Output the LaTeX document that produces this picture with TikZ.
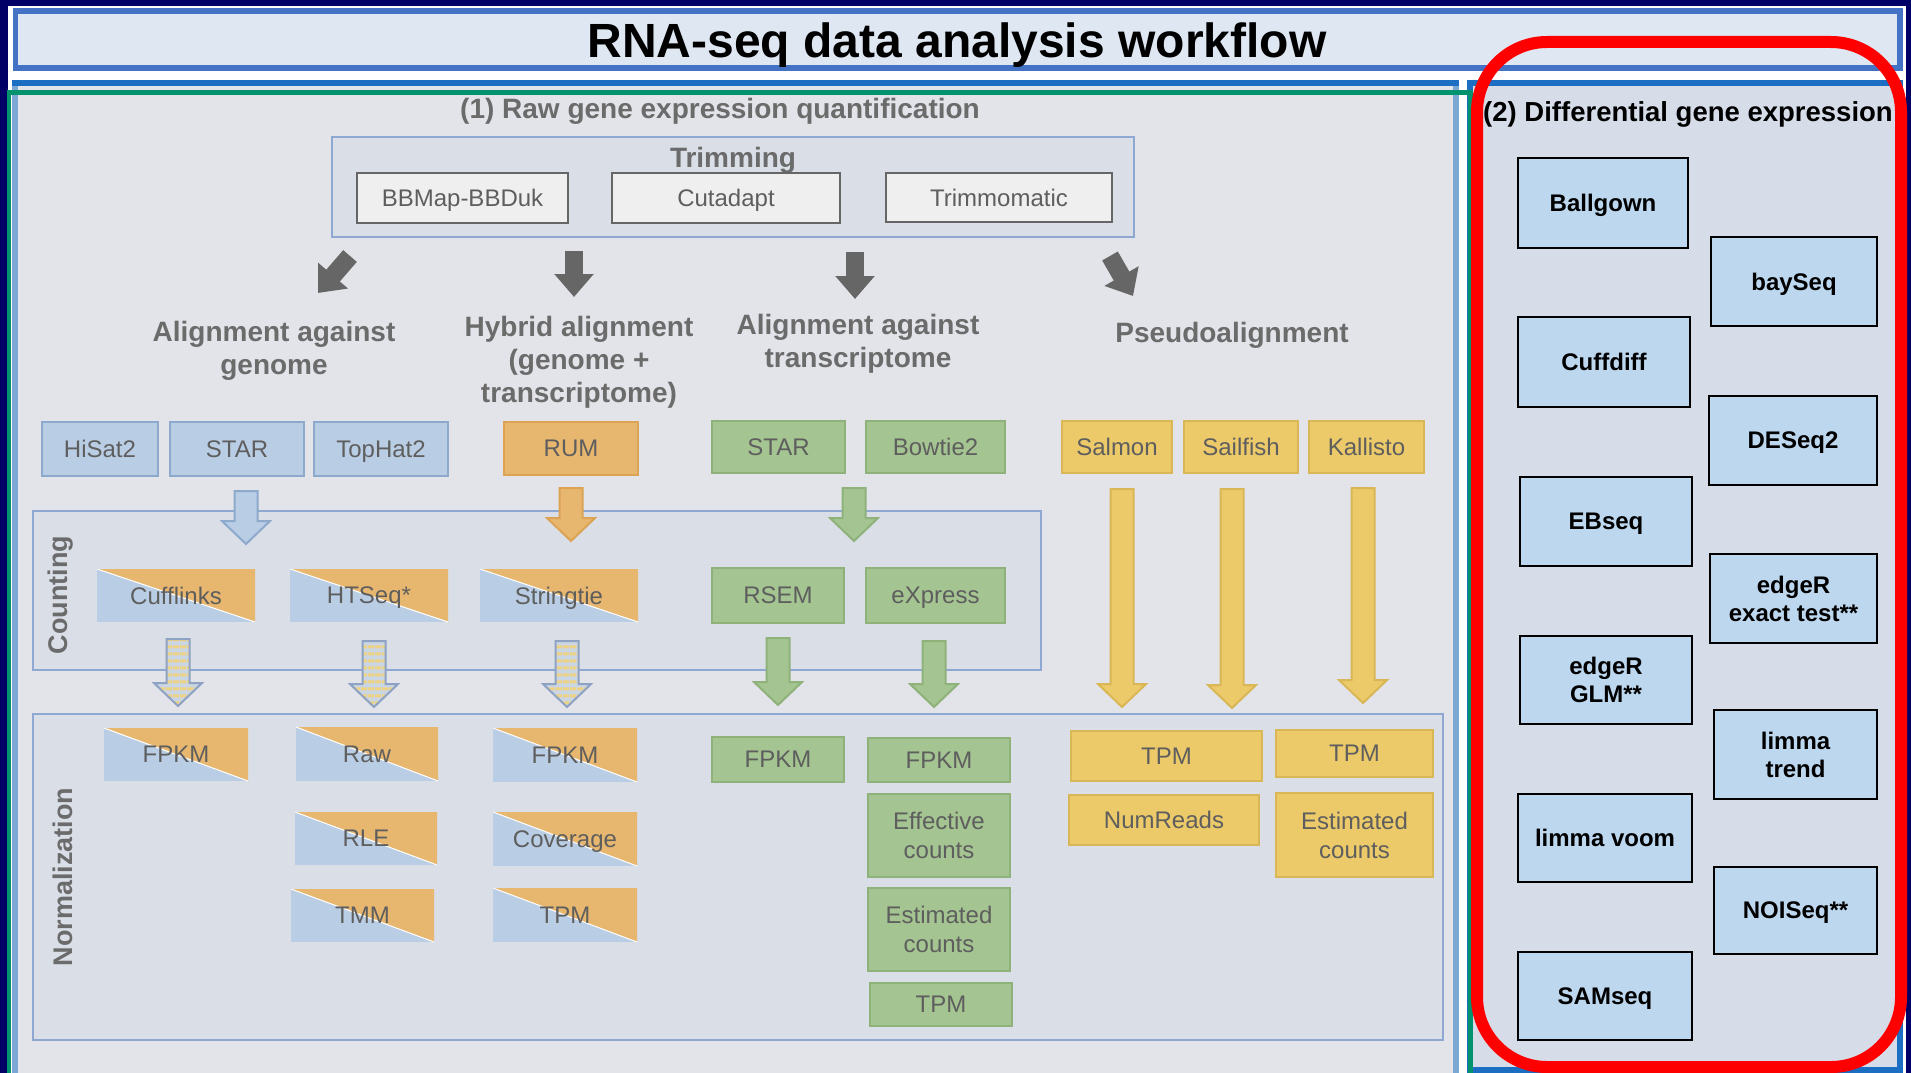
\documentclass[tikz,border=0pt]{standalone}
\usepackage{fontspec}
\setmainfont{Liberation Sans}
\usetikzlibrary{arrows.meta, calc, patterns.meta}

\definecolor{navyback}{HTML}{000066}
\definecolor{titleline}{HTML}{4472C4}
\definecolor{titlefill}{HTML}{DFE7F2}
\definecolor{panelfill}{HTML}{E2E4E9}
\definecolor{panelline}{HTML}{7AA7D3}
\definecolor{paneltop}{HTML}{1B6EC2}
\definecolor{rightfill}{HTML}{D6DDE9}
\definecolor{frame}{HTML}{00936E}
\definecolor{headgray}{HTML}{6B6B6B}
\definecolor{toolgray}{HTML}{5E5E5E}
\definecolor{arrowgray}{HTML}{666666}
\definecolor{toolblue}{HTML}{B9CDE4}
\definecolor{toolblueline}{HTML}{8DA9CC}
\definecolor{toolorange}{HTML}{E8B76F}
\definecolor{toolorangeline}{HTML}{DCA354}
\definecolor{toolgreen}{HTML}{A4C491}
\definecolor{toolgreenline}{HTML}{8FB27B}
\definecolor{toolyellow}{HTML}{ECCA6A}
\definecolor{toolyellowline}{HTML}{D9B656}
\definecolor{trimfill}{HTML}{EFEFEF}
\definecolor{trimline}{HTML}{666666}
\definecolor{groupfill}{HTML}{D9DEE7}
\definecolor{groupline}{HTML}{8EA8D2}
\definecolor{stripeblue}{HTML}{CBD6E4}
\definecolor{stripeyellow}{HTML}{EDD283}
\definecolor{stripeline}{HTML}{8EA2C3}
\definecolor{defill}{HTML}{BDD7EE}

\newcommand{\blockarrow}[3]{%
    \draw [#1] let \p1 = (#2), \p2 = (#3) in
        (\x1 - 11.5pt, \y1) -- (\x1 + 11.5pt, \y1) -- (\x1 + 11.5pt, \y2 + 23pt)
        -- (\x1 + 24pt, \y2 + 23pt) -- (\x1, \y2) -- (\x1 - 24pt, \y2 + 23pt)
        -- (\x1 - 11.5pt, \y2 + 23pt) -- cycle;
}

\begin{document}
\begin{tikzpicture}[x=1pt, y=-1pt,
        boxsize/.style 2 args={minimum width=#1, minimum height=#2},
        heading/.style={font=\fontsize{28}{33}\selectfont\bfseries, text=headgray, align=center},
        tool/.style={draw, line width=2.5pt, inner sep=0pt, text depth=0pt, font=\fontsize{24}{29}\selectfont, text=toolgray, align=center},
        bluetool/.style={tool, fill=toolblue, draw=toolblueline},
        orangetool/.style={tool, fill=toolorange, draw=toolorangeline},
        greentool/.style={tool, fill=toolgreen, draw=toolgreenline},
        yellowtool/.style={tool, fill=toolyellow, draw=toolyellowline},
        trimtool/.style={tool, fill=trimfill, draw=trimline},
        splittool/.style={fill=toolblue, inner sep=0pt, text depth=0pt, font=\fontsize{24}{29}\selectfont, text=toolgray,
            path picture={
                \fill [toolorange] (path picture bounding box.north west) -- (path picture bounding box.north east)
                    -- (path picture bounding box.south east) -- cycle;
                \draw [white, line width=1pt] (path picture bounding box.north west) -- (path picture bounding box.south east);
            }},
        detool/.style={draw=black, line width=2.5pt, fill=defill, inner sep=0pt, text depth=0pt, font=\fontsize{24}{28}\selectfont\bfseries, align=center},
        grayarrow/.style={draw=arrowgray, line width=18pt, -{Triangle[width=38pt, length=23pt]}},
        bluearrow/.style={fill=toolblue, draw=toolblueline, line width=2pt},
        orangearrow/.style={fill=toolorange, draw=toolorangeline, line width=2pt},
        greenarrow/.style={fill=toolgreen, draw=toolgreenline, line width=2pt},
        yellowarrow/.style={fill=toolyellow, draw=toolyellowline, line width=2pt},
        stripearrow/.style={preaction={fill=stripeblue}, pattern={Lines[angle=0, distance=6.5pt, line width=3.2pt]},
            pattern color=stripeyellow, draw=stripeline, line width=2pt}
    ]
    \useasboundingbox (0, 0) rectangle (1911, 1073);
    \fill [navyback] (0, 0) rectangle (1911, 1073);
    \fill [white] (8, 6) rectangle (1906, 1073);

    % title and panels
    \draw [titleline, fill=titlefill, line width=5.5pt] (15.3, 10.8) rectangle (1900.2, 68.2);
    \node[font=\fontsize{48}{52}\selectfont\bfseries] (title) at (957, 45) {RNA-seq data analysis workflow};

    \draw [panelline, fill=panelfill, line width=6pt] (15, 83) rectangle (1456, 1076);
    \draw [paneltop, line width=6pt] (12, 83) -- (1459, 83);
    \draw [paneltop, fill=rightfill, line width=6pt] (1470, 83) rectangle (1900, 1070);
    \draw [frame, line width=4.5pt] (9, 1080) -- (9, 92.5) -- (1470.5, 92.5) -- (1470.5, 1080);

    \node[heading] (quant) at (720, 111) {(1) Raw gene expression quantification};

    % trimming
    \node[draw=groupline, fill=groupfill, line width=2.5pt, boxsize={802}{100}] (trim) at (733, 187) {};
    \node[heading] (trimlabel) at (733, 160) {Trimming};
    \node[trimtool, boxsize={211}{50}] (bbduk) at (462.5, 198) {BBMap-BBDuk};
    \node[trimtool, boxsize={228}{50}] (cutadapt) at (726, 198) {Cutadapt};
    \node[trimtool, boxsize={226}{49}] (trimmomatic) at (999, 197.5) {Trimmomatic};

    \coordinate (a1s) at (350, 256);
    \coordinate (a1e) at (318, 293);
    \coordinate (a2s) at (574, 251);
    \coordinate (a2e) at (574, 297);
    \coordinate (a3s) at (855, 252);
    \coordinate (a3e) at (855, 299);
    \coordinate (a4s) at (1110, 256);
    \coordinate (a4e) at (1133, 296);
    \draw [grayarrow] (a1s) -- (a1e);
    \draw [grayarrow] (a2s) -- (a2e);
    \draw [grayarrow] (a3s) -- (a3e);
    \draw [grayarrow] (a4s) -- (a4e);

    % alignment strategies
    \node[heading] (genome) at (274, 350.5) {Alignment against\\genome};
    \node[heading] (hybrid) at (579, 362.5) {Hybrid alignment\\(genome +\\transcriptome)};
    \node[heading] (transcriptome) at (858, 344) {Alignment against\\transcriptome};
    \node[heading] (pseudo) at (1232, 335) {Pseudoalignment};

    \node[bluetool, boxsize={116}{54}] (hisat) at (100, 449) {HiSat2};
    \node[bluetool, boxsize={134}{54}] (stargen) at (237, 449) {STAR};
    \node[bluetool, boxsize={134}{54}] (tophat) at (381, 449) {TopHat2};
    \node[orangetool, boxsize={134}{53}] (rum) at (571, 448.5) {RUM};
    \node[greentool, boxsize={133}{52}] (startr) at (778.5, 447) {STAR};
    \node[greentool, boxsize={139}{52}] (bowtie) at (935.5, 447) {Bowtie2};
    \node[yellowtool, boxsize={110}{52}] (salmon) at (1117, 447) {Salmon};
    \node[yellowtool, boxsize={114}{52}] (sailfish) at (1241, 447) {Sailfish};
    \node[yellowtool, boxsize={115}{52}] (kallisto) at (1366.5, 447) {Kallisto};

    % counting
    \node[draw=groupline, fill=groupfill, line width=2.5pt, boxsize={1008}{159}] (counting) at (537, 590.5) {};
    \node[font=\fontsize{27}{30}\selectfont\bfseries, text=headgray, rotate=90] (countlabel) at (60.5, 595) {Counting};

    \coordinate (b1s) at (246, 491);
    \coordinate (b1e) at (246, 544);
    \coordinate (b2s) at (571, 488);
    \coordinate (b2e) at (571, 541);
    \coordinate (b3s) at (854, 488);
    \coordinate (b3e) at (854, 541);
    \blockarrow{bluearrow}{b1s}{b1e}
    \blockarrow{orangearrow}{b2s}{b2e}
    \blockarrow{greenarrow}{b3s}{b3e}

    \node[splittool, boxsize={158}{53}] (cufflinks) at (176, 595.5) {Cufflinks};
    \node[splittool, boxsize={158}{53}] (htseq) at (369, 595.5) {HTSeq*};
    \node[splittool, boxsize={158}{53}] (stringtie) at (559, 595.5) {Stringtie};
    \node[greentool, boxsize={132}{55}] (rsem) at (778, 595.5) {RSEM};
    \node[greentool, boxsize={139}{55}] (express) at (935.5, 595.5) {eXpress};

    % normalization
    \node[draw=groupline, fill=groupfill, line width=2.5pt, boxsize={1410}{326}] (norm) at (738, 877) {};
    \node[font=\fontsize{27}{30}\selectfont\bfseries, text=headgray, rotate=90] (normlabel) at (62.5, 877) {Normalization};

    \coordinate (s1s) at (178, 639);
    \coordinate (s1e) at (178, 706);
    \coordinate (s2s) at (374, 641);
    \coordinate (s2e) at (374, 707);
    \coordinate (s3s) at (567, 641);
    \coordinate (s3e) at (567, 707);
    \coordinate (g1s) at (778, 638);
    \coordinate (g1e) at (778, 705);
    \coordinate (g2s) at (934, 641);
    \coordinate (g2e) at (934, 707);
    \coordinate (y1s) at (1122, 489);
    \coordinate (y1e) at (1122, 707);
    \coordinate (y2s) at (1232, 489);
    \coordinate (y2e) at (1232, 708);
    \coordinate (y3s) at (1363, 488);
    \coordinate (y3e) at (1363, 703);
    \blockarrow{stripearrow}{s1s}{s1e}
    \blockarrow{stripearrow}{s2s}{s2e}
    \blockarrow{stripearrow}{s3s}{s3e}
    \blockarrow{greenarrow}{g1s}{g1e}
    \blockarrow{greenarrow}{g2s}{g2e}
    \blockarrow{yellowarrow}{y1s}{y1e}
    \blockarrow{yellowarrow}{y2s}{y2e}
    \blockarrow{yellowarrow}{y3s}{y3e}

    \node[splittool, boxsize={144}{53}] (fpkma) at (176, 754.5) {FPKM};
    \node[splittool, boxsize={142}{54}] (raw) at (367, 754) {Raw};
    \node[splittool, boxsize={142}{53}] (rle) at (366, 838.5) {RLE};
    \node[splittool, boxsize={143}{53}] (tmm) at (362.5, 915.5) {TMM};
    \node[splittool, boxsize={144}{54}] (fpkmb) at (565, 755) {FPKM};
    \node[splittool, boxsize={144}{54}] (coverage) at (565, 839) {Coverage};
    \node[splittool, boxsize={144}{54}] (tpma) at (565, 915) {TPM};

    \node[greentool, boxsize={132}{45}] (fpkmc) at (778, 759.5) {FPKM};
    \node[greentool, boxsize={142}{44}] (fpkmd) at (939, 760) {FPKM};
    \node[greentool, boxsize={142}{83}] (effective) at (939, 835.5) {Effective\\counts};
    \node[greentool, boxsize={142}{83}] (estimateda) at (939, 929.5) {Estimated\\counts};
    \node[greentool, boxsize={142}{43}] (tpmb) at (941, 1004.5) {TPM};

    \node[yellowtool, boxsize={191}{50}] (tpmc) at (1166.5, 756) {TPM};
    \node[yellowtool, boxsize={190}{50}] (numreads) at (1164, 820) {NumReads};
    \node[yellowtool, boxsize={157}{47}] (tpmd) at (1354.5, 753.5) {TPM};
    \node[yellowtool, boxsize={157}{84}] (estimatedb) at (1354.5, 835) {Estimated\\counts};

    % differential expression tools
    \node[detool, boxsize={170}{90}] (ballgown) at (1603, 203) {Ballgown};
    \node[detool, boxsize={166}{89}] (bayseq) at (1794, 281.5) {baySeq};
    \node[detool, boxsize={172}{90}] (cuffdiff) at (1604, 362) {Cuffdiff};
    \node[detool, boxsize={168}{89}] (deseq) at (1793, 440.5) {DESeq2};
    \node[detool, boxsize={172}{89}] (ebseq) at (1606, 521.5) {EBseq};
    \node[detool, boxsize={167}{89}] (edgerexact) at (1793.5, 598.5) {edgeR\\exact test**};
    \node[detool, boxsize={172}{88}] (edgerglm) at (1606, 680) {edgeR\\GLM**};
    \node[detool, boxsize={163}{89}] (limmatrend) at (1795.5, 754.5) {limma\\trend};
    \node[detool, boxsize={174}{88}] (limmavoom) at (1605, 838) {limma voom};
    \node[detool, boxsize={163}{87}] (noiseq) at (1795.5, 910.5) {NOISeq**};
    \node[detool, boxsize={174}{88}] (samseq) at (1605, 996) {SAMseq};

    \draw [red, line width=12pt, rounded corners=70pt] (1477, 42) rectangle (1901, 1067);
    \node[font=\fontsize{27.5}{32}\selectfont\bfseries] (diff) at (1688, 114) {(2) Differential gene expression};
\end{tikzpicture}
\end{document}
